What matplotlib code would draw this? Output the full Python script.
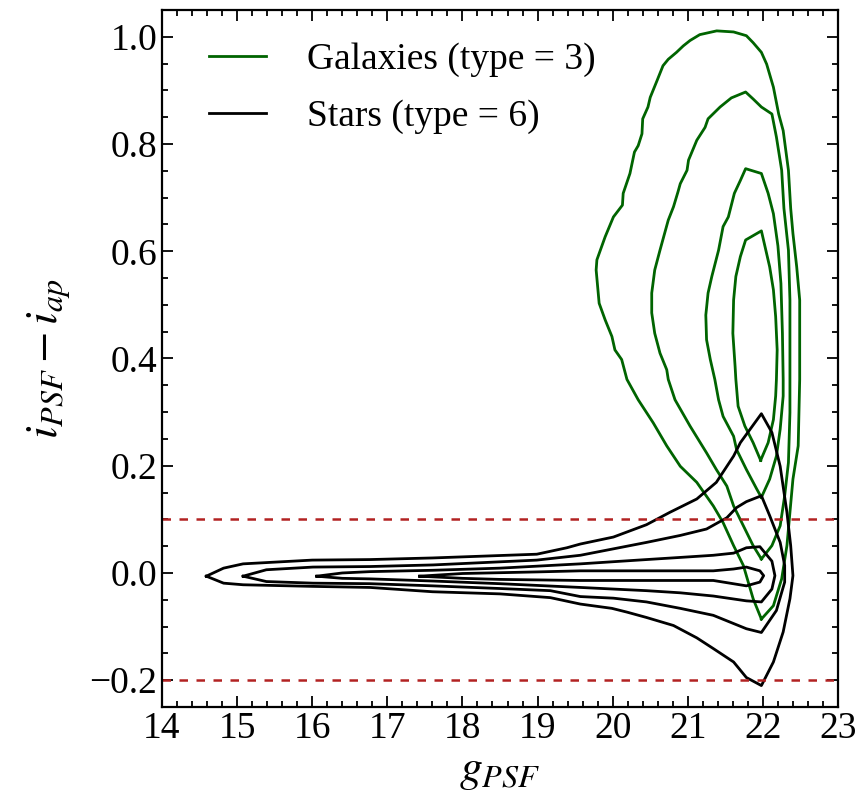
import matplotlib
matplotlib.use("Agg")
import matplotlib.pyplot as plt
from matplotlib.ticker import MultipleLocator

plt.rcParams['font.family'] = ['Liberation Serif', 'DejaVu Serif']
plt.rcParams['mathtext.fontset'] = 'stix'

# ---- data: contour paths (g_PSF, i_PSF - i_ap) ----
gal_c1_x = [21.98, 21.87, 21.74, 21.61, 21.47, 21.34, 21.12, 20.90, 20.72, 20.54, 20.34, 20.19, 20.12, 20.03,
            19.99, 19.90, 19.82, 19.78, 19.79, 19.90, 20.01, 20.13, 20.14, 20.23, 20.29, 20.34, 20.39, 20.40,
            20.47, 20.50, 20.59, 20.67, 20.74, 20.85, 20.94, 21.03, 21.16, 21.385, 21.61, 21.78, 21.87, 21.98,
            22.05, 22.14, 22.21, 22.27, 22.34, 22.37, 22.40, 22.45, 22.49, 22.49, 22.47, 22.40, 22.36, 22.32,
            22.25, 22.14, 21.98]
gal_c1_y = [-0.086, -0.048, 0.014, 0.051, 0.094, 0.125, 0.169, 0.199, 0.237, 0.280, 0.323, 0.361, 0.398, 0.416,
            0.441, 0.472, 0.503, 0.565, 0.584, 0.627, 0.664, 0.686, 0.708, 0.745, 0.785, 0.797, 0.819, 0.847,
            0.869, 0.887, 0.918, 0.946, 0.958, 0.971, 0.983, 0.993, 1.004, 1.011, 1.009, 1.002, 0.989, 0.971,
            0.949, 0.906, 0.856, 0.825, 0.751, 0.680, 0.633, 0.571, 0.509, 0.361, 0.237, 0.175, 0.113, 0.051,
            -0.011, -0.061, -0.086]

gal_c2_x = [21.98, 21.87, 21.74, 21.61, 21.52, 21.38, 21.25, 21.03, 20.83, 20.74, 20.72, 20.63, 20.56, 20.52,
            20.52, 20.56, 20.63, 20.74, 20.81, 20.87, 20.90, 20.99, 21.01, 21.12, 21.23, 21.27, 21.43, 21.58,
            21.77, 21.87, 21.98, 22.12, 22.18, 22.25, 22.28, 22.34, 22.36, 22.36, 22.36, 22.34, 22.29, 22.23,
            22.12, 21.98]
gal_c2_y = [0.026, 0.051, 0.088, 0.125, 0.162, 0.193, 0.224, 0.274, 0.323, 0.361, 0.379, 0.410, 0.447, 0.485,
            0.522, 0.565, 0.602, 0.658, 0.683, 0.711, 0.726, 0.751, 0.770, 0.807, 0.831, 0.847, 0.869, 0.886,
            0.897, 0.884, 0.869, 0.856, 0.813, 0.751, 0.680, 0.602, 0.509, 0.361, 0.299, 0.206, 0.144, 0.088,
            0.051, 0.026]

gal_c3_x = [21.98, 21.92, 21.78, 21.65, 21.61, 21.47, 21.41, 21.36, 21.30, 21.25, 21.24, 21.27, 21.32, 21.41,
            21.47, 21.54, 21.58, 21.62, 21.70, 21.77, 21.98, 22.07, 22.14, 22.20, 22.24, 22.26, 22.27, 22.27,
            22.23, 22.18, 22.09, 21.98]
gal_c3_y = [0.141, 0.156, 0.193, 0.230, 0.255, 0.292, 0.323, 0.361, 0.398, 0.435, 0.481, 0.522, 0.553, 0.602,
            0.646, 0.664, 0.686, 0.708, 0.732, 0.754, 0.745, 0.708, 0.670, 0.610, 0.540, 0.447, 0.361, 0.330,
            0.268, 0.218, 0.175, 0.141]

gal_c4_x = [21.97, 21.87, 21.76, 21.67, 21.64, 21.63, 21.60, 21.61, 21.64, 21.70, 21.77, 21.98, 22.09, 22.14,
            22.17, 22.19, 22.18, 22.17, 22.14, 22.07, 21.97]
gal_c4_y = [0.210, 0.243, 0.274, 0.311, 0.361, 0.385, 0.447, 0.509, 0.553, 0.590, 0.621, 0.638, 0.571, 0.528,
            0.478, 0.416, 0.361, 0.330, 0.286, 0.243, 0.210]

star_c1_x = [14.59, 14.82, 15.08, 16.00, 16.77, 17.60, 18.99, 19.39, 19.57, 20.01, 20.45, 20.76, 21.12, 21.38,
             21.61, 21.70, 21.98, 22.12, 22.23, 22.32, 22.37, 22.40, 22.36, 22.27, 22.14, 21.98, 21.78, 21.61,
             21.34, 21.12, 20.81, 20.45, 20.19, 19.99, 19.57, 19.17, 18.50, 17.60, 16.77, 16.00, 15.08, 14.82,
             14.59]
star_c1_y = [-0.006, 0.009, 0.017, 0.024, 0.025, 0.028, 0.035, 0.047, 0.054, 0.067, 0.090, 0.113, 0.138, 0.169,
             0.218, 0.243, 0.297, 0.262, 0.199, 0.113, 0.051, -0.005, -0.048, -0.110, -0.166, -0.210, -0.195,
             -0.166, -0.141, -0.121, -0.098, -0.083, -0.073, -0.066, -0.058, -0.046, -0.039, -0.035, -0.027,
             -0.025, -0.022, -0.019, -0.006]

star_c2_x = [15.08, 15.39, 16.01, 16.77, 17.61, 18.99, 19.57, 20.01, 20.45, 20.90, 21.25, 21.52, 21.65, 21.78,
             21.98, 22.09, 22.23, 22.29, 22.29, 22.18, 21.98, 21.78, 21.34, 20.90, 20.45, 20.01, 19.57, 19.17,
             18.50, 17.60, 16.77, 16.01, 15.39, 15.08]
star_c2_y = [-0.006, 0.006, 0.011, 0.012, 0.015, 0.024, 0.033, 0.045, 0.057, 0.070, 0.082, 0.103, 0.122, 0.133,
             0.144, 0.107, 0.057, 0.014, -0.017, -0.070, -0.111, -0.104, -0.079, -0.066, -0.054, -0.047, -0.044,
             -0.033, -0.029, -0.024, -0.020, -0.019, -0.016, -0.006]

star_c3_x = [16.06, 16.40, 16.77, 17.60, 18.50, 19.57, 20.01, 20.45, 20.90, 21.34, 21.61, 21.78, 21.96, 22.12,
             22.16, 22.12, 21.98, 21.78, 21.34, 20.90, 20.45, 20.01, 19.57, 18.50, 17.60, 16.77, 16.40, 16.06]
star_c3_y = [-0.006, 0.000, 0.0025, 0.005, 0.009, 0.017, 0.021, 0.025, 0.029, 0.033, 0.037, 0.047, 0.049, 0.022,
             -0.005, -0.030, -0.054, -0.052, -0.043, -0.037, -0.033, -0.030, -0.027, -0.020, -0.015, -0.011,
             -0.010, -0.006]

star_c4_x = [17.43, 18.00, 19.00, 19.57, 21.34, 21.61, 21.78, 21.96, 22.01, 21.96, 21.78, 21.34, 19.57, 18.50,
             18.00, 17.43]
star_c4_y = [-0.006, -0.001, 0.002, 0.004, 0.004, 0.0074, 0.011, 0.004, -0.005, -0.017, -0.024, -0.014, -0.014,
             -0.012, -0.010, -0.006]

cut_lines = [0.1, -0.2]
legend_labels = ['Galaxies (type = 3)', 'Stars (type = 6)']

galaxy_contours = [(gal_c1_x, gal_c1_y), (gal_c2_x, gal_c2_y), (gal_c3_x, gal_c3_y), (gal_c4_x, gal_c4_y)]
star_contours = [(star_c1_x, star_c1_y), (star_c2_x, star_c2_y), (star_c3_x, star_c3_y), (star_c4_x, star_c4_y)]

fig = plt.figure(figsize=(8.58, 7.97), dpi=100)
ax = fig.add_axes([0.1888, 0.1129, 0.7879, 0.8746])

gal_color = '#006400'
for i, (xs, ys) in enumerate(galaxy_contours):
    ax.plot(xs, ys, color=gal_color, lw=2.0, label=legend_labels[0] if i == 0 else None)
for i, (xs, ys) in enumerate(star_contours):
    ax.plot(xs, ys, color='black', lw=2.0, label=legend_labels[1] if i == 0 else None)

for yv in cut_lines:
    ax.axhline(yv, color='#b22222', lw=1.8, ls=(0, (3.4, 3.4)))

ax.set_xlim(14, 23)
ax.set_ylim(-0.25, 1.05)
ax.xaxis.set_major_locator(MultipleLocator(1))
ax.xaxis.set_minor_locator(MultipleLocator(0.2))
ax.yaxis.set_major_locator(MultipleLocator(0.2))
ax.yaxis.set_minor_locator(MultipleLocator(0.05))
ax.tick_params(which='both', direction='in', top=True, right=True, labelsize=27, width=1.3)
ax.tick_params(which='major', length=8)
ax.tick_params(which='minor', length=4)
for sp in ax.spines.values():
    sp.set_linewidth(1.6)

ax.set_xlabel(r'$g_{PSF}$', fontsize=33, labelpad=2)
ax.set_ylabel(r'$i_{PSF} - i_{ap}$', fontsize=33, labelpad=12)

ax.legend(loc='upper left', frameon=False, fontsize=27, handlelength=1.5, handletextpad=1.1,
          labelspacing=0.6, bbox_to_anchor=(0.02, 1.002))

fig.savefig('out.png', dpi=100)
